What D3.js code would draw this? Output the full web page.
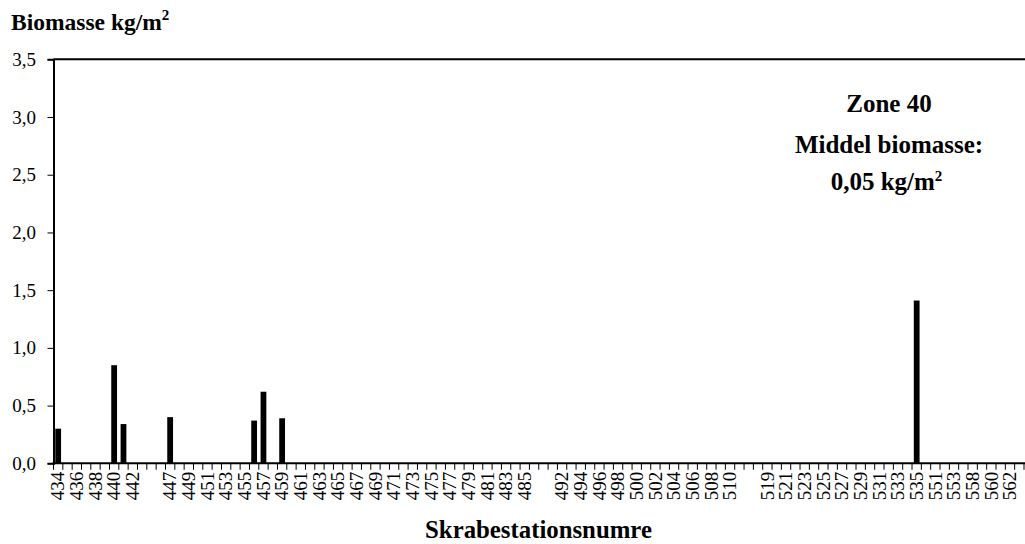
<!DOCTYPE html>
<html><head><meta charset="utf-8">
<script src="https://cdn.jsdelivr.net/npm/d3@7"></script>
<style>
body{margin:0;background:#fff}
svg{display:block}
text{font-family:"Liberation Serif","Times New Roman",serif;fill:#000}
</style></head><body>
<script>
// Station categories (blank entries are group separators in the original chart)
const stations = ["434","435","436","437","438","439","440","441","442","443","","446",
"447","448","449","450","451","452","453","454","455","456","457","458","459","460",
"461","462","463","464","465","466","467","468","469","470","471","472","473","474",
"475","476","477","478","479","480","481","482","483","484","485","486","","491",
"492","493","494","495","496","497","498","499","500","501","502","503","504","505",
"506","507","508","509","510","511","","518","519","520","521","522","523","524","525",
"526","527","528","529","530","531","532","533","534","535","537","551","552","553",
"555","558","559","560","561","562","563"];
// Biomass kg/m2 per station
const biomass = [0.30,0,0,0,0,0,0.85,0.34,0,0,0,0,
0.40,0,0,0,0,0,0,0,0,0.37,0.62,0,0.39,0,
0,0,0,0,0,0,0,0,0,0,0,0,0,0,
0,0,0,0,0,0,0,0,0,0,0,0,0,0,
0,0,0,0,0,0,0,0,0,0,0,0,0,0,
0,0,0,0,0,0,0,0,0,0,0,0,0,0,
0,0,0,0,0,0,0,0,0,0,1.41,0,0,0,0,
0,0,0,0,0,0,0];
const yTicks = [0,0.5,1.0,1.5,2.0,2.5,3.0,3.5];
const yTitle = "Biomasse kg/m";
const xTitle = "Skrabestationsnumre";
const noteLines = ["Zone 40","Middel biomasse:","0,05 kg/m"];

const W = 1025, H = 544;
const mL = 53.5, mR = 1024, mT = 59.3, mB = 463.3;

const svg = d3.select("body").append("svg").attr("width", W).attr("height", H);

const idx = d3.range(stations.length);
const x = d3.scaleBand().domain(idx).range([mL, mR]).paddingInner(0.38).paddingOuter(0.19);
const y = d3.scaleLinear().domain([0, 3.5]).range([mB, mT]);
const fmt = v => d3.format(".1f")(v).replace(".", ",");

// bars
svg.append("g").selectAll("rect").data(idx.filter(i => biomass[i] > 0)).join("rect")
  .attr("x", i => x(i)).attr("width", x.bandwidth())
  .attr("y", i => y(biomass[i])).attr("height", i => y(0) - y(biomass[i]))
  .attr("fill", "#000");

// y axis
const ya = svg.append("g").attr("transform", `translate(${mL},0)`)
  .call(d3.axisLeft(y).tickValues(yTicks).tickFormat(fmt).tickSize(6).tickPadding(11.5));
ya.select(".domain").attr("stroke", "#000").attr("stroke-width", 2);
ya.selectAll(".tick line").attr("stroke", "#000").attr("stroke-width", 1);
ya.selectAll(".tick text").attr("font-size", 19).attr("font-family", "Liberation Serif");

// top border line
svg.append("line").attr("x1", mL).attr("x2", W).attr("y1", y(3.5)).attr("y2", y(3.5))
  .attr("stroke", "#000").attr("stroke-width", 2);

// x axis: labels on every other category
const xa = svg.append("g").attr("transform", `translate(0,${mB})`)
  .call(d3.axisBottom(x).tickFormat(i => (i % 2 === 0 ? stations[i] : "")).tickSize(0).tickPadding(0));
xa.select(".domain").remove();
xa.selectAll(".tick text")
  .attr("font-size", 19).attr("font-family", "Liberation Serif")
  .attr("text-anchor", "end").attr("transform", "rotate(-90)")
  .attr("x", -8.5).attr("y", 0).attr("dy", "0.33em");
// boundary tick marks
const bounds = d3.range(stations.length + 1).map(k => mL + k * x.step());
svg.append("g").selectAll("line").data(bounds).join("line")
  .attr("x1", d => d).attr("x2", d => d).attr("y1", mB).attr("y2", mB + 6.5)
  .attr("stroke", "#000").attr("stroke-width", 1);
svg.append("line").attr("x1", mL - 1).attr("x2", W).attr("y1", mB).attr("y2", mB)
  .attr("stroke", "#000").attr("stroke-width", 2);

// y title
const t1 = svg.append("text").attr("x", 11).attr("y", 30)
  .attr("font-size", 23.5).attr("font-weight", "bold").text(yTitle);
t1.append("tspan").attr("font-size", 15).attr("dy", -10).text("2");

// x title
svg.append("text").attr("x", 538.5).attr("y", 538).attr("text-anchor", "middle")
  .attr("font-size", 24.8).attr("font-weight", "bold").text(xTitle);

// annotation
const ny = [111.5, 153, 190];
noteLines.forEach((s, k) => {
  const t = svg.append("text").attr("x", k === 2 ? 886.5 : 889).attr("y", ny[k]).attr("text-anchor", "middle")
    .attr("font-size", 25).attr("font-weight", "bold").text(s);
  if (k === 2) t.append("tspan").attr("font-size", 15).attr("dy", -9).text("2");
});
</script>
</body></html>
